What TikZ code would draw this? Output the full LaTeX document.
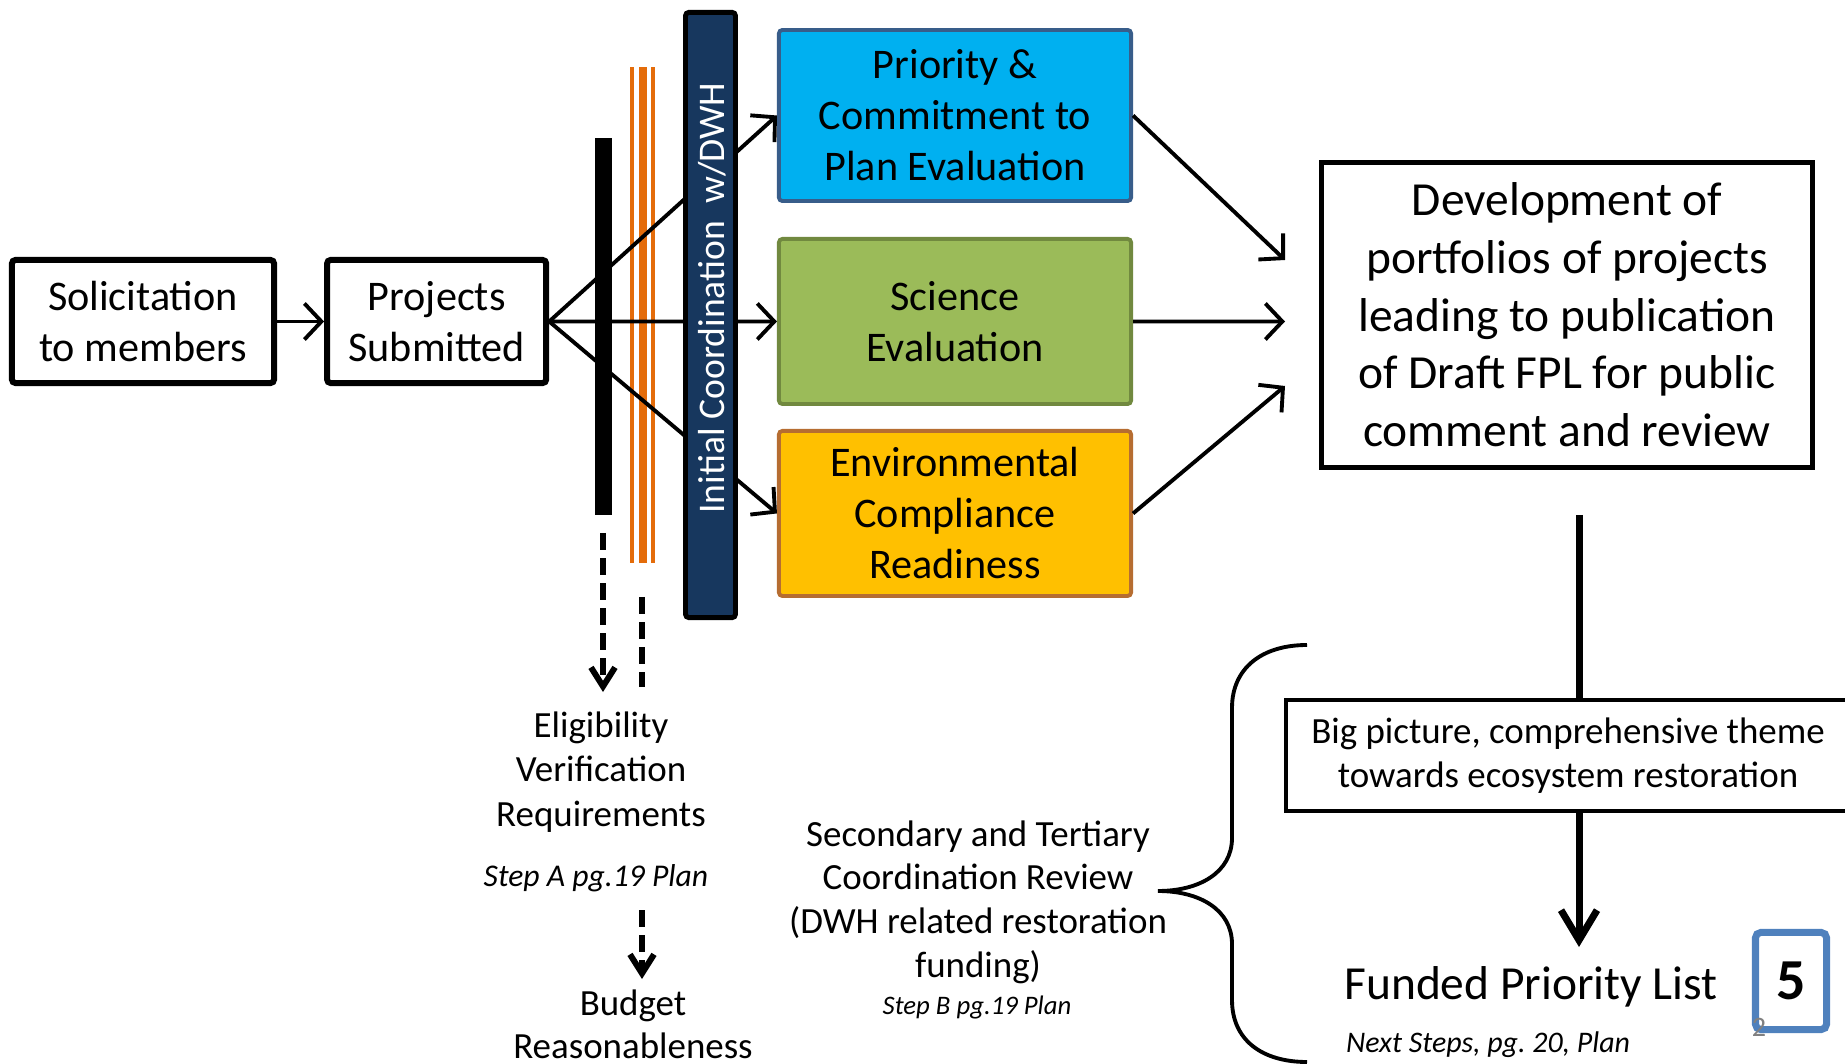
\documentclass[tikz,border=0pt]{standalone}
\usepackage{fontspec}
\setmainfont{Carlito}
\usetikzlibrary{arrows.meta,positioning,calc}

\definecolor{navybar}{RGB}{23,55,94}
\definecolor{cyanfill}{RGB}{0,176,240}
\definecolor{cyanedge}{RGB}{56,93,138}
\definecolor{greenfill}{RGB}{155,187,89}
\definecolor{greenedge}{RGB}{113,137,63}
\definecolor{goldfill}{RGB}{255,192,0}
\definecolor{goldedge}{RGB}{182,109,49}
\definecolor{orangeline}{RGB}{228,108,10}
\definecolor{slideblue}{RGB}{79,129,189}

\begin{document}
\begin{tikzpicture}[x=0.01cm,y=-0.01cm,>={Straight Barb[length=1.7mm,width=3.6mm]},line width=1.1pt]
  \tikzstyle{plain box}=[draw=black,line width=1.7pt,rounded corners=1pt,align=center,inner sep=0pt,minimum height=1.23cm,font=\fontsize{12}{14.5}\selectfont]
  \tikzstyle{eval box}=[line width=1.1pt,rounded corners=1pt,align=center,inner sep=0pt,minimum width=3.52cm,minimum height=1.65cm,font=\fontsize{12}{14.5}\selectfont]
  \tikzstyle{note}=[align=center,font=\fontsize{10.5}{12.7}\selectfont]
  \tikzstyle{dashy}=[line width=1.7pt,dash pattern=on 1.7mm off 0.8mm,>={Straight Barb[length=1.9mm,width=2.4mm]}]
	\useasboundingbox (0,0) rectangle (1845,1064);

	% first steps
	\node[plain box, minimum width=2.62cm] (sol) at (143,321.5) {Solicitation\\to members};
	\node[plain box, minimum width=2.19cm, right=0.47cm of sol] (sub) {Projects\\Submitted};

	% evaluations
	\node[eval box, fill=cyanfill, draw=cyanedge, minimum height=1.71cm] (pri) at (955,115.5) {Priority \&\\Commitment to\\Plan Evaluation};
	\node[eval box, fill=greenfill, draw=greenedge, below=0.34cm of pri] (sci) {Science\\Evaluation};
	\node[eval box, fill=goldfill, draw=goldedge, below=0.23cm of sci] (env) {Environmental\\Compliance\\Readiness};

	% screens
	\foreach \x/\w in {632/4,642.5/8,653/4}
		\fill[orangeline] ({\x-\w/2},67) rectangle ({\x+\w/2},563);
	\node[fill=black, inner sep=0pt, minimum width=0.17cm, minimum height=3.77cm] (gate) at (603.5,326.5) {};

	\path[->]
	(sol) edge (sub)
	(sub.east) edge (pri.west)
	(sub.east) edge (sci.west)
	(sub.east) edge (env.west);

	\node[fill=navybar, draw=black, line width=1.4pt, rounded corners=1pt, inner sep=0pt, minimum width=0.5cm, minimum height=6.05cm] (coord) at (710.5,315) {};
	\node[rotate=90, text=white, font=\fontsize{10.7}{13}\selectfont] (coordtxt) at (712,298) {Initial Coordination\ \ w/DWH};

	% portfolios
	\node[draw=black, line width=1.4pt, align=center, inner sep=0pt, minimum width=4.91cm, minimum height=3.05cm, font=\fontsize{13.5}{16.4}\selectfont] (dev) at (1567,315) {Development of\\portfolios of projects\\leading to publication\\of Draft FPL for public\\comment and review};
	\coordinate (in1) at (1285,260);
	\coordinate (in2) at (1285,321.5);
	\coordinate (in3) at (1285,386);
	\path[->]
	(pri.east) edge (in1)
	(sci.east) edge (in2)
	(env.east) edge (in3);

	\node[draw=black, line width=1.3pt, align=center, inner sep=0pt, minimum width=5.64cm, minimum height=1.11cm, font=\fontsize{10.5}{12.7}\selectfont] (big) at (1568,755.5) {Big picture, comprehensive theme\\towards ecosystem restoration};
	\coordinate (drop) at (1579,515);
	\coordinate (fundtip) at (1579,947);
	\draw[line width=2pt] (drop) -- (drop |- big.north);
	\draw[->, line width=2pt, >={Straight Barb[length=3mm,width=3.6mm]}] (drop |- big.south) -- (fundtip);

	\node[font=\fontsize{13.5}{16}\selectfont] (fund) at (1531,987) {Funded Priority List};
	\node[font=\fontsize{8.5}{10}\selectfont\itshape] (next) at (1488,1045) {Next Steps, pg.\ 20, Plan};
	\node[draw=slideblue, line width=2pt, rounded corners=1.5pt, inner sep=0pt, minimum width=0.71cm, minimum height=0.97cm, font=\fontsize{16.5}{18}\selectfont\bfseries] (five) at (1791,981) {5};
	\node[text=gray, font=\fontsize{8}{9}\selectfont] (pgno) at (1759,1027) {2};

	% second review
	\draw (1307,645) .. controls (1262,645) and (1232,668) .. (1232,708) -- (1232,838)
		.. controls (1232,872) and (1200,891) .. (1158,891)
		.. controls (1200,891) and (1232,910) .. (1232,944) -- (1232,1000)
		.. controls (1232,1040) and (1262,1062) .. (1307,1062);
	\node[note, font=\fontsize{10.5}{12.4}\selectfont] (sec) at (978,902) {Secondary and Tertiary\\Coordination Review\\(DWH related restoration\\funding)};
	\node[font=\fontsize{7.6}{9}\selectfont\itshape] (stepb) at (977,1008) {Step B pg.19 Plan};

	% eligibility and budget
	\node[note] (elig) at (601,772) {Eligibility\\Verification\\Requirements};
	\node[font=\fontsize{9}{11}\selectfont\itshape] (stepa) at (596,878) {Step A pg.19 Plan};
	\node[note, font=\fontsize{10.5}{12.3}\selectfont] (budget) at (633,1024) {Budget\\Reasonableness};

	\coordinate (gatedrop) at (603,533);
	\coordinate (eligtip) at (603,692);
	\coordinate (orangedrop) at (642,597);
	\coordinate (orangeend) at (642,687);
	\coordinate (budgetfrom) at (642,910);
	\coordinate (budgettip) at (642,979);
	\draw[dashy,->] (gatedrop) -- (eligtip);
	\draw[dashy] (orangedrop) -- (orangeend);
	\draw[dashy,->] (budgetfrom) -- (budgettip);
\end{tikzpicture}
\end{document}
